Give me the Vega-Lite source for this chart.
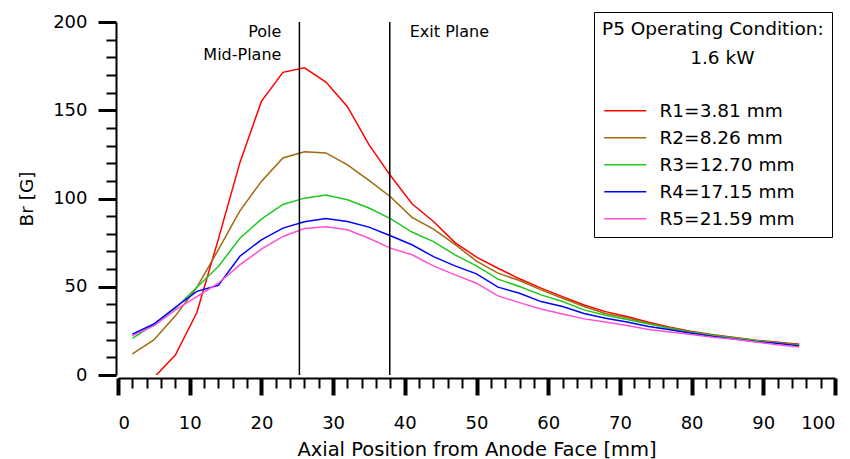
{
  "$schema": "https://vega.github.io/schema/vega-lite/v6.json",
  "width": 717,
  "height": 353,
  "autosize": {"type": "none"},
  "padding": {"left": 118, "top": 22, "right": 15, "bottom": 84},
  "config": {
    "view": {"stroke": null},
    "font": "DejaVu Sans",
    "axis": {"grid": false, "domainColor": "black", "tickColor": "black", "labelColor": "black", "titleColor": "black", "labelFont": "DejaVu Sans", "titleFont": "DejaVu Sans", "labelFontSize": 18, "titleFontSize": 18, "titleFontWeight": "normal"}
  },
  "datasets": {
    "br": [
      {"x": 5, "r": "R1=3.81 mm", "v": -1.5}, {"x": 8, "r": "R1=3.81 mm", "v": 11.3}, {"x": 11, "r": "R1=3.81 mm", "v": 35.4}, {"x": 14, "r": "R1=3.81 mm", "v": 77}, {"x": 17, "r": "R1=3.81 mm", "v": 120.3}, {"x": 20, "r": "R1=3.81 mm", "v": 155}, {"x": 23, "r": "R1=3.81 mm", "v": 171.5}, {"x": 26, "r": "R1=3.81 mm", "v": 174}, {"x": 29, "r": "R1=3.81 mm", "v": 166}, {"x": 32, "r": "R1=3.81 mm", "v": 152}, {"x": 35, "r": "R1=3.81 mm", "v": 130.5}, {"x": 38, "r": "R1=3.81 mm", "v": 113}, {"x": 41, "r": "R1=3.81 mm", "v": 97}, {"x": 44, "r": "R1=3.81 mm", "v": 87}, {"x": 47, "r": "R1=3.81 mm", "v": 75}, {"x": 50, "r": "R1=3.81 mm", "v": 66.8}, {"x": 53, "r": "R1=3.81 mm", "v": 60.5}, {"x": 56, "r": "R1=3.81 mm", "v": 54.5}, {"x": 59, "r": "R1=3.81 mm", "v": 49.2}, {"x": 62, "r": "R1=3.81 mm", "v": 44.4}, {"x": 65, "r": "R1=3.81 mm", "v": 39.7}, {"x": 68, "r": "R1=3.81 mm", "v": 35.9}, {"x": 71, "r": "R1=3.81 mm", "v": 33.1}, {"x": 74, "r": "R1=3.81 mm", "v": 29.9}, {"x": 77, "r": "R1=3.81 mm", "v": 27}, {"x": 80, "r": "R1=3.81 mm", "v": 24.7}, {"x": 83, "r": "R1=3.81 mm", "v": 22.8}, {"x": 86, "r": "R1=3.81 mm", "v": 21.2}, {"x": 89, "r": "R1=3.81 mm", "v": 19.7}, {"x": 92, "r": "R1=3.81 mm", "v": 18.5}, {"x": 95, "r": "R1=3.81 mm", "v": 17.4},
      {"x": 2, "r": "R2=8.26 mm", "v": 11.9}, {"x": 5, "r": "R2=8.26 mm", "v": 19.9}, {"x": 8, "r": "R2=8.26 mm", "v": 33.5}, {"x": 11, "r": "R2=8.26 mm", "v": 49.7}, {"x": 14, "r": "R2=8.26 mm", "v": 71}, {"x": 17, "r": "R2=8.26 mm", "v": 93}, {"x": 20, "r": "R2=8.26 mm", "v": 109.7}, {"x": 23, "r": "R2=8.26 mm", "v": 123}, {"x": 26, "r": "R2=8.26 mm", "v": 126.5}, {"x": 29, "r": "R2=8.26 mm", "v": 125.8}, {"x": 32, "r": "R2=8.26 mm", "v": 119}, {"x": 35, "r": "R2=8.26 mm", "v": 110.3}, {"x": 38, "r": "R2=8.26 mm", "v": 101}, {"x": 41, "r": "R2=8.26 mm", "v": 89.3}, {"x": 44, "r": "R2=8.26 mm", "v": 82.7}, {"x": 47, "r": "R2=8.26 mm", "v": 74}, {"x": 50, "r": "R2=8.26 mm", "v": 64.5}, {"x": 53, "r": "R2=8.26 mm", "v": 57.7}, {"x": 56, "r": "R2=8.26 mm", "v": 53.5}, {"x": 59, "r": "R2=8.26 mm", "v": 48.2}, {"x": 62, "r": "R2=8.26 mm", "v": 43.5}, {"x": 65, "r": "R2=8.26 mm", "v": 38.8}, {"x": 68, "r": "R2=8.26 mm", "v": 34.8}, {"x": 71, "r": "R2=8.26 mm", "v": 32.4}, {"x": 74, "r": "R2=8.26 mm", "v": 29.2}, {"x": 77, "r": "R2=8.26 mm", "v": 26.5}, {"x": 80, "r": "R2=8.26 mm", "v": 24.2}, {"x": 83, "r": "R2=8.26 mm", "v": 22.4}, {"x": 86, "r": "R2=8.26 mm", "v": 20.9}, {"x": 89, "r": "R2=8.26 mm", "v": 19.4}, {"x": 92, "r": "R2=8.26 mm", "v": 18.2}, {"x": 95, "r": "R2=8.26 mm", "v": 17.2},
      {"x": 2, "r": "R3=12.70 mm", "v": 20.8}, {"x": 5, "r": "R3=12.70 mm", "v": 28.5}, {"x": 8, "r": "R3=12.70 mm", "v": 37.8}, {"x": 11, "r": "R3=12.70 mm", "v": 49.7}, {"x": 14, "r": "R3=12.70 mm", "v": 61.5}, {"x": 17, "r": "R3=12.70 mm", "v": 77.5}, {"x": 20, "r": "R3=12.70 mm", "v": 88.3}, {"x": 23, "r": "R3=12.70 mm", "v": 96.6}, {"x": 26, "r": "R3=12.70 mm", "v": 100.2}, {"x": 29, "r": "R3=12.70 mm", "v": 102}, {"x": 32, "r": "R3=12.70 mm", "v": 99.3}, {"x": 35, "r": "R3=12.70 mm", "v": 94.6}, {"x": 38, "r": "R3=12.70 mm", "v": 88.6}, {"x": 41, "r": "R3=12.70 mm", "v": 81}, {"x": 44, "r": "R3=12.70 mm", "v": 75.6}, {"x": 47, "r": "R3=12.70 mm", "v": 68.1}, {"x": 50, "r": "R3=12.70 mm", "v": 61.8}, {"x": 53, "r": "R3=12.70 mm", "v": 54.3}, {"x": 56, "r": "R3=12.70 mm", "v": 50.1}, {"x": 59, "r": "R3=12.70 mm", "v": 45.4}, {"x": 62, "r": "R3=12.70 mm", "v": 41.6}, {"x": 65, "r": "R3=12.70 mm", "v": 36.9}, {"x": 68, "r": "R3=12.70 mm", "v": 33.8}, {"x": 71, "r": "R3=12.70 mm", "v": 31.5}, {"x": 74, "r": "R3=12.70 mm", "v": 28.9}, {"x": 77, "r": "R3=12.70 mm", "v": 26.5}, {"x": 80, "r": "R3=12.70 mm", "v": 24.2}, {"x": 83, "r": "R3=12.70 mm", "v": 22.5}, {"x": 86, "r": "R3=12.70 mm", "v": 21}, {"x": 89, "r": "R3=12.70 mm", "v": 19.5}, {"x": 92, "r": "R3=12.70 mm", "v": 18.2}, {"x": 95, "r": "R3=12.70 mm", "v": 16.8},
      {"x": 2, "r": "R4=17.15 mm", "v": 23.1}, {"x": 5, "r": "R4=17.15 mm", "v": 28.9}, {"x": 8, "r": "R4=17.15 mm", "v": 38.4}, {"x": 11, "r": "R4=17.15 mm", "v": 47.4}, {"x": 14, "r": "R4=17.15 mm", "v": 50.8}, {"x": 17, "r": "R4=17.15 mm", "v": 67.3}, {"x": 20, "r": "R4=17.15 mm", "v": 76.6}, {"x": 23, "r": "R4=17.15 mm", "v": 83.2}, {"x": 26, "r": "R4=17.15 mm", "v": 86.8}, {"x": 29, "r": "R4=17.15 mm", "v": 88.7}, {"x": 32, "r": "R4=17.15 mm", "v": 87}, {"x": 35, "r": "R4=17.15 mm", "v": 83.8}, {"x": 38, "r": "R4=17.15 mm", "v": 78.9}, {"x": 41, "r": "R4=17.15 mm", "v": 73.8}, {"x": 44, "r": "R4=17.15 mm", "v": 67.1}, {"x": 47, "r": "R4=17.15 mm", "v": 61.8}, {"x": 50, "r": "R4=17.15 mm", "v": 57.3}, {"x": 53, "r": "R4=17.15 mm", "v": 49.8}, {"x": 56, "r": "R4=17.15 mm", "v": 46.3}, {"x": 59, "r": "R4=17.15 mm", "v": 41.6}, {"x": 62, "r": "R4=17.15 mm", "v": 38.8}, {"x": 65, "r": "R4=17.15 mm", "v": 34.8}, {"x": 68, "r": "R4=17.15 mm", "v": 32.2}, {"x": 71, "r": "R4=17.15 mm", "v": 30}, {"x": 74, "r": "R4=17.15 mm", "v": 27.5}, {"x": 77, "r": "R4=17.15 mm", "v": 25.7}, {"x": 80, "r": "R4=17.15 mm", "v": 23.7}, {"x": 83, "r": "R4=17.15 mm", "v": 21.8}, {"x": 86, "r": "R4=17.15 mm", "v": 20.4}, {"x": 89, "r": "R4=17.15 mm", "v": 18.9}, {"x": 92, "r": "R4=17.15 mm", "v": 17.8}, {"x": 95, "r": "R4=17.15 mm", "v": 16.5},
      {"x": 2, "r": "R5=21.59 mm", "v": 22.3}, {"x": 5, "r": "R5=21.59 mm", "v": 27.8}, {"x": 8, "r": "R5=21.59 mm", "v": 36.9}, {"x": 11, "r": "R5=21.59 mm", "v": 44.4}, {"x": 14, "r": "R5=21.59 mm", "v": 52}, {"x": 17, "r": "R5=21.59 mm", "v": 62.4}, {"x": 20, "r": "R5=21.59 mm", "v": 71.3}, {"x": 23, "r": "R5=21.59 mm", "v": 78.5}, {"x": 26, "r": "R5=21.59 mm", "v": 83}, {"x": 29, "r": "R5=21.59 mm", "v": 84}, {"x": 32, "r": "R5=21.59 mm", "v": 82.3}, {"x": 35, "r": "R5=21.59 mm", "v": 77.5}, {"x": 38, "r": "R5=21.59 mm", "v": 71.9}, {"x": 41, "r": "R5=21.59 mm", "v": 68.1}, {"x": 44, "r": "R5=21.59 mm", "v": 61.8}, {"x": 47, "r": "R5=21.59 mm", "v": 56.7}, {"x": 50, "r": "R5=21.59 mm", "v": 52}, {"x": 53, "r": "R5=21.59 mm", "v": 44.8}, {"x": 56, "r": "R5=21.59 mm", "v": 41}, {"x": 59, "r": "R5=21.59 mm", "v": 37.4}, {"x": 62, "r": "R5=21.59 mm", "v": 34.6}, {"x": 65, "r": "R5=21.59 mm", "v": 31.8}, {"x": 68, "r": "R5=21.59 mm", "v": 30}, {"x": 71, "r": "R5=21.59 mm", "v": 28}, {"x": 74, "r": "R5=21.59 mm", "v": 25.8}, {"x": 77, "r": "R5=21.59 mm", "v": 24.3}, {"x": 80, "r": "R5=21.59 mm", "v": 22.9}, {"x": 83, "r": "R5=21.59 mm", "v": 21.4}, {"x": 86, "r": "R5=21.59 mm", "v": 20.2}, {"x": 89, "r": "R5=21.59 mm", "v": 18.7}, {"x": 92, "r": "R5=21.59 mm", "v": 17.2}, {"x": 95, "r": "R5=21.59 mm", "v": 15.8}
    ],
    "planes": [{"x": 25.3}, {"x": 37.9}],
    "poleText": [{"x": 25.3, "y": 194.3, "t": "Pole"}, {"x": 25.3, "y": 181.2, "t": "Mid-Plane"}],
    "exitText": [{"x": 37.9, "y": 194.3, "t": "Exit Plane"}]
  },
  "layer": [
    {
      "data": {"name": "br"},
      "mark": {"type": "line", "clip": true, "strokeWidth": 1.5},
      "encoding": {
        "x": {"field": "x", "type": "quantitative", "scale": {"domain": [0, 100], "nice": false},
          "axis": {"orient": "bottom", "values": [0, 10, 20, 30, 40, 50, 60, 70, 80, 90, 100], "offset": 3, "tickSize": 17, "tickWidth": 4, "domainWidth": 2, "labelPadding": 19, "title": "Axial Position from Anode Face [mm]", "titleFontSize": 19.5, "titlePadding": 8}},
        "y": {"field": "v", "type": "quantitative", "scale": {"domain": [0, 200], "nice": false},
          "axis": {"orient": "left", "values": [0, 50, 100, 150, 200], "offset": 2, "tickSize": 18, "tickWidth": 3, "domainWidth": 2, "labelPadding": 11, "title": "Br [G]", "titleFontSize": 18.5, "titlePadding": 16}},
        "color": {"field": "r", "type": "nominal",
          "scale": {"domain": ["R1=3.81 mm", "R2=8.26 mm", "R3=12.70 mm", "R4=17.15 mm", "R5=21.59 mm"], "range": ["#ff0000", "#a0690d", "#1ec81e", "#0000ff", "#ff4fd8"]},
          "legend": {"orient": "none", "legendX": 476, "legendY": -10, "title": ["P5 Operating Condition:", "\u200b\u00a0\u00a0\u00a0\u00a0\u00a0\u00a0\u00a0\u00a0\u00a0\u00a0\u00a0\u00a0\u00a0\u00a0\u00a01.6 kW"], "titleLimit": 400, "titleAnchor": "start", "titleAlign": "left", "titleFontSize": 18.5, "titleFontWeight": "normal", "titleFont": "DejaVu Sans", "titleColor": "black", "titleLineHeight": 29, "titlePadding": 34, "labelFontSize": 18.5, "labelFont": "DejaVu Sans", "labelColor": "black", "labelLimit": 300, "symbolType": "M-1,0H5", "symbolSize": 196, "symbolStrokeWidth": 1.5, "rowPadding": 8, "labelOffset": 39, "padding": 8, "strokeColor": "black", "fillColor": "white"}}
      }
    },
    {
      "data": {"name": "planes"},
      "mark": {"type": "rule", "color": "black", "strokeWidth": 1.5},
      "encoding": {
        "x": {"field": "x", "type": "quantitative", "scale": {"domain": [0, 100], "nice": false},
          "axis": {"orient": "bottom", "values": [2, 4, 6, 8, 12, 14, 16, 18, 22, 24, 26, 28, 32, 34, 36, 38, 42, 44, 46, 48, 52, 54, 56, 58, 62, 64, 66, 68, 72, 74, 76, 78, 82, 84, 86, 88, 92, 94, 96, 98], "offset": 3, "tickSize": 10, "tickWidth": 2, "labels": false, "domain": false, "title": null}},
        "y": {"datum": 0, "type": "quantitative", "scale": {"domain": [0, 200], "nice": false},
          "axis": {"orient": "left", "values": [10, 20, 30, 40, 60, 70, 80, 90, 110, 120, 130, 140, 160, 170, 180, 190], "offset": 2, "tickSize": 10, "tickWidth": 2, "labels": false, "domain": false, "title": null}},
        "y2": {"datum": 200}
      }
    },
    {
      "data": {"name": "poleText"},
      "mark": {"type": "text", "align": "right", "baseline": "middle", "dx": -18, "fontSize": 16, "font": "DejaVu Sans", "color": "black"},
      "encoding": {
        "x": {"field": "x", "type": "quantitative", "axis": null},
        "y": {"field": "y", "type": "quantitative", "axis": null},
        "text": {"field": "t"}
      }
    },
    {
      "data": {"name": "exitText"},
      "mark": {"type": "text", "align": "left", "baseline": "middle", "dx": 20, "fontSize": 16, "font": "DejaVu Sans", "color": "black"},
      "encoding": {
        "x": {"field": "x", "type": "quantitative", "axis": null},
        "y": {"field": "y", "type": "quantitative", "axis": null},
        "text": {"field": "t"}
      }
    }
  ],
  "resolve": {"axis": {"x": "independent", "y": "independent"}}
}
